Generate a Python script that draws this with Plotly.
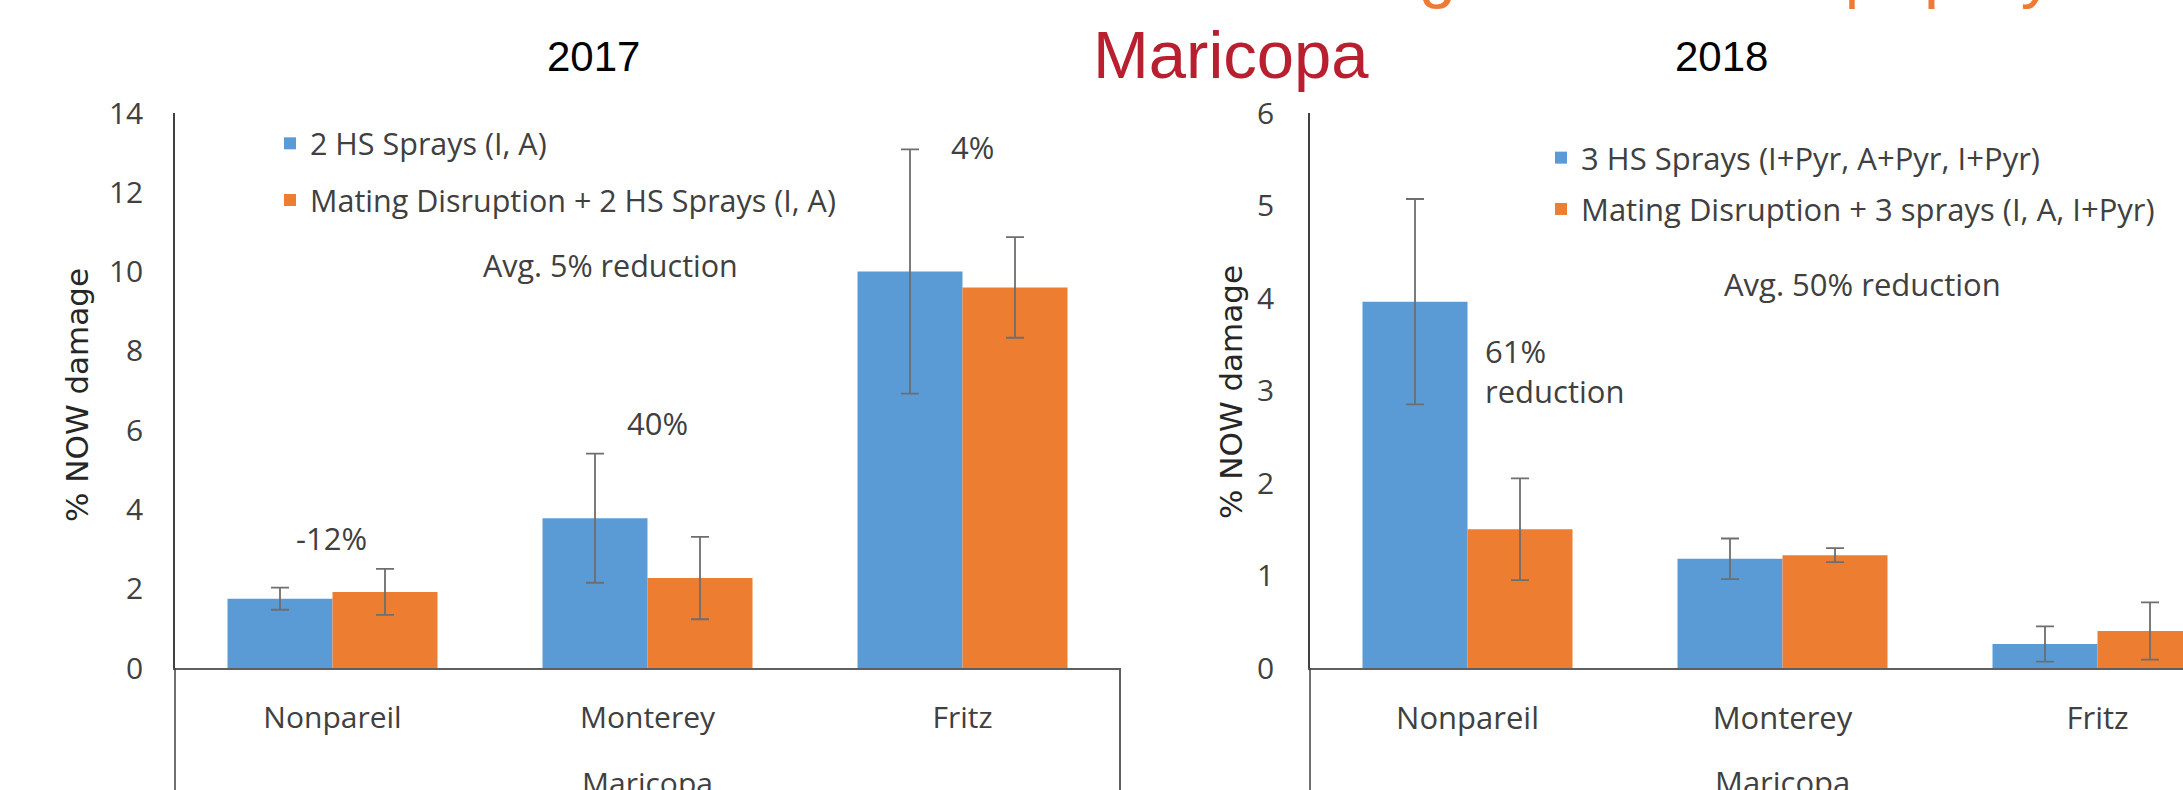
import plotly.graph_objects as go

# ---------------- data ----------------
varieties = ["Nonpareil", "Monterey", "Fritz"]

# 2017
hs2_2017 = [1.75, 3.78, 10.0]
hs2_2017_err = [0.28, 1.63, 3.08]
md_2017 = [1.92, 2.27, 9.6]
md_2017_err = [0.58, 1.04, 1.27]

# 2018
hs3_2018 = [3.96, 1.18, 0.26]
hs3_2018_err = [1.11, 0.22, 0.19]
md_2018 = [1.50, 1.22, 0.40]
md_2018_err = [0.55, 0.075, 0.31]

name_hs2017 = "2 HS Sprays (I, A)"
name_md2017 = "Mating Disruption + 2 HS Sprays (I, A)"
name_hs2018 = "3 HS Sprays (I+Pyr, A+Pyr, I+Pyr)"
name_md2018 = "Mating Disruption + 3 sprays (I, A, I+Pyr)"

ticks_2017 = [0, 2, 4, 6, 8, 10, 12, 14]
ticks_2018 = [0, 1, 2, 3, 4, 5, 6]

# ---------------- styling helpers ----------------
W, H = 2183, 790
def px(x):
    return x / W
def py(y):
    return 1 - y / H

BLUE = "#5B9BD5"
ORANGE = "#ED7D31"
ERR = "#6E6E6E"
TXT = "#404040"
CAL = "Open Sans, Roboto, sans-serif"
ARIAL = "Liberation Sans, Arial, sans-serif"
VERD = "DejaVu Sans, Verdana, sans-serif"

# plot areas (pixels)
L0, L1 = 175, 1120
R0 = 1310
Y_TOP, Y_BOT = 113, 668
cat_w = (L1 - L0) / 3.0

def bar(x, y, err, color, name, xa, ya, legend, group):
    return go.Bar(
        x=x, y=y, name=name, marker=dict(color=color, line=dict(width=0)),
        error_y=dict(type="data", array=err, visible=True, color=ERR,
                     thickness=1.8, width=9),
        xaxis=xa, yaxis=ya, legend=legend, legendgroup=group, showlegend=True,
    )

fig = go.Figure()
fig.add_trace(bar(varieties, hs2_2017, hs2_2017_err, BLUE, name_hs2017, "x", "y", "legend", "a"))
fig.add_trace(bar(varieties, md_2017, md_2017_err, ORANGE, name_md2017, "x", "y", "legend", "b"))
fig.add_trace(bar(varieties, hs3_2018, hs3_2018_err, BLUE, name_hs2018, "x2", "y2", "legend2", "c"))
fig.add_trace(bar(varieties, md_2018, md_2018_err, ORANGE, name_md2018, "x2", "y2", "legend2", "d"))

axis_common_x = dict(
    type="category", showline=True, linecolor="#5f5f5f", linewidth=2,
    ticks="", showgrid=False, zeroline=False, ticklabelstandoff=22,
)
axis_common_y = dict(
    showline=True, linecolor="#404040", linewidth=1.5, ticks="",
    showgrid=False, zeroline=False,
    tickfont=dict(family=CAL, size=30, color=TXT),
)

fig.update_layout(
    width=W, height=H,
    margin=dict(l=0, r=0, t=0, b=0, autoexpand=False),
    paper_bgcolor="white", plot_bgcolor="white",
    barmode="group", bargap=1/3, bargroupgap=0,
    xaxis=dict(domain=[px(L0), px(L1)], range=[-0.5, 2.5], anchor="y",
               tickfont=dict(family=CAL, size=30, color=TXT), **axis_common_x),
    yaxis=dict(domain=[py(Y_BOT), py(Y_TOP)], range=[0, 14], tickvals=ticks_2017,
               anchor="x", ticklabelstandoff=24, **axis_common_y),
    xaxis2=dict(domain=[px(R0), 1.0], range=[-0.5, -0.5 + (W - R0) / cat_w], anchor="y2",
                tickfont=dict(family=CAL, size=31, color=TXT), **axis_common_x),
    yaxis2=dict(domain=[py(Y_BOT), py(Y_TOP)], range=[0, 6], tickvals=ticks_2018,
                anchor="x2", ticklabelstandoff=28, **axis_common_y),
    legend=dict(x=px(270), y=py(117), xanchor="left", yanchor="top",
                bgcolor="rgba(0,0,0,0)", traceorder="grouped", tracegroupgap=14,
                font=dict(family=CAL, size=30.5, color=TXT), itemclick=False),
    legend2=dict(x=px(1541), y=py(131), xanchor="left", yanchor="top",
                 bgcolor="rgba(0,0,0,0)", traceorder="grouped", tracegroupgap=8,
                 font=dict(family=CAL, size=31, color=TXT), itemclick=False),
    showlegend=True,
)

# divider lines of the category axis
line_style = dict(color="#5f5f5f", width=2)
fig.add_shape(type="line", xref="paper", yref="paper", x0=px(L0), x1=px(L0),
              y0=py(Y_BOT), y1=0, line=dict(color="#404040", width=1.5))
fig.add_shape(type="line", xref="paper", yref="paper", x0=px(L1), x1=px(L1),
              y0=py(Y_BOT), y1=0, line=line_style)
fig.add_shape(type="line", xref="paper", yref="paper", x0=px(R0), x1=px(R0),
              y0=py(Y_BOT), y1=0, line=dict(color="#404040", width=1.5))

def note(text, x, y, size=30, color=TXT, family=CAL, xanchor="center", align="center", **kw):
    fig.add_annotation(text=text, xref="paper", yref="paper", x=px(x), y=py(y),
                       xanchor=xanchor, yanchor="middle", showarrow=False, align=align,
                       font=dict(family=family, size=size, color=color), **kw)

# titles
note("2017", 593, 57, size=42, color="#000000", family=ARIAL)
note("2018", 1721, 57, size=42, color="#000000", family=ARIAL)
note("Maricopa", 1231, 54, size=67, color="#B8202F", family=ARIAL)
fig.add_annotation(text="Integrated results | Spray timing", xref="paper", yref="paper",
                   x=px(1305), y=py(11), xanchor="left", yanchor="bottom", showarrow=False,
                   font=dict(family=ARIAL, size=67, color="#EE7A33"))

# axis titles
note("% NOW damage", 77, 395, size=31, color="#262626", family=VERD, textangle=-90)
note("% NOW damage", 1231, 392, size=31, color="#262626", family=VERD, textangle=-90)

# group labels
fig.add_annotation(text="Maricopa", xref="x", yref="paper", x="Monterey", y=py(782),
                   yanchor="middle", showarrow=False, font=dict(family=CAL, size=30, color=TXT))
fig.add_annotation(text="Maricopa", xref="x2", yref="paper", x="Monterey", y=py(782),
                   yanchor="middle", showarrow=False, font=dict(family=CAL, size=31, color=TXT))

# reduction notes
note("-12%", 331, 538, size=31)
note("40%", 657, 423, size=31)
note("4%", 972, 147, size=31)
note("Avg. 5% reduction", 610, 265, size=30.5)
note("Avg. 50% reduction", 1862, 284, size=31)
note("61%<br>reduction", 1483, 371, size=31, xanchor="left", align="left")

fig.write_html("out.html", config={"displayModeBar": False},
               post_script="document.body.style.margin='0px';")
